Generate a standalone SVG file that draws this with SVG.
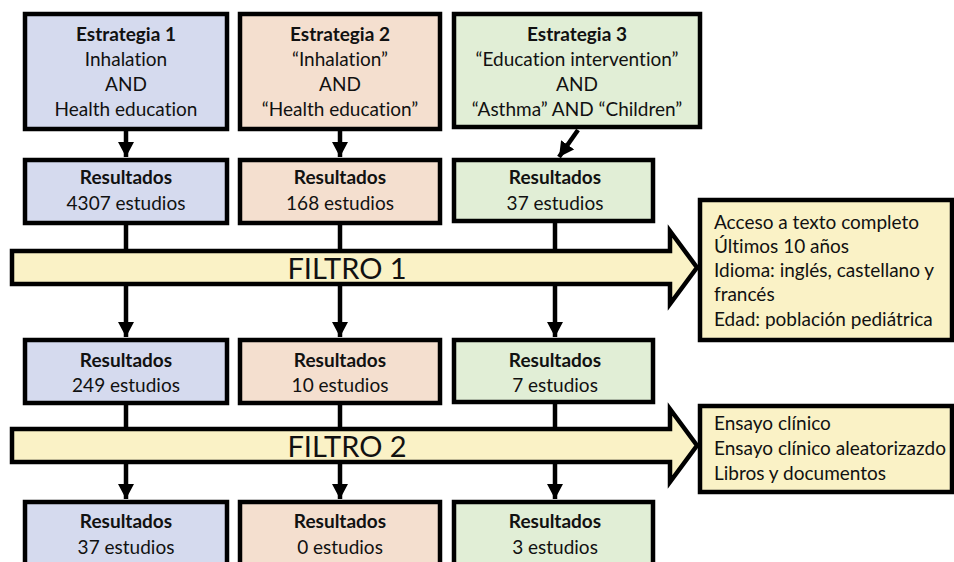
<svg xmlns="http://www.w3.org/2000/svg" width="954" height="562" viewBox="0 0 954 562">
<defs>
<style>
.box{stroke:#000;stroke-width:4.5}
.b{fill:#d5daee}.p{fill:#f4dfcf}.g{fill:#e1eed6}.y{fill:#faf2c6}
text{font-family:Lato,"Open Sans","Liberation Sans",sans-serif;font-size:19px;fill:#111;font-variant-ligatures:none}
.c{text-anchor:middle}
.h{font-weight:bold}
.f{font-size:29px}
.con{stroke:#000;stroke-width:4.5;fill:none}
</style>
<marker id="ah" markerUnits="userSpaceOnUse" markerWidth="16" markerHeight="16" refX="15" refY="8" orient="auto">
<path d="M0,0 L15,8 L0,16 Z" fill="#000"/>
</marker>
</defs>
<rect width="954" height="562" fill="#fff"/>

<g id="connectors">
<line class="con" x1="126" y1="130" x2="126" y2="157" marker-end="url(#ah)"/>
<line class="con" x1="340" y1="130" x2="340" y2="157" marker-end="url(#ah)"/>
<line class="con" x1="578" y1="130" x2="559" y2="157" marker-end="url(#ah)"/>
<line class="con" x1="126" y1="224" x2="126" y2="250"/>
<line class="con" x1="340" y1="224" x2="340" y2="250"/>
<line class="con" x1="555" y1="222" x2="555" y2="250"/>
<line class="con" x1="126" y1="285" x2="126" y2="337" marker-end="url(#ah)"/>
<line class="con" x1="340" y1="285" x2="340" y2="337" marker-end="url(#ah)"/>
<line class="con" x1="555" y1="285" x2="555" y2="337" marker-end="url(#ah)"/>
<line class="con" x1="126" y1="404" x2="126" y2="428"/>
<line class="con" x1="340" y1="404" x2="340" y2="428"/>
<line class="con" x1="555" y1="403" x2="555" y2="428"/>
<line class="con" x1="126" y1="463" x2="126" y2="499" marker-end="url(#ah)"/>
<line class="con" x1="340" y1="463" x2="340" y2="499" marker-end="url(#ah)"/>
<line class="con" x1="555" y1="463" x2="555" y2="499" marker-end="url(#ah)"/>
</g>

<g id="estrategia1">
<rect class="box b" x="25" y="14" width="202" height="115"/>
<text class="c h" x="126" y="41">Estrategia 1</text>
<text class="c" x="126" y="66">Inhalation</text>
<text class="c" x="126" y="91">AND</text>
<text class="c" x="126" y="116">Health education</text>
</g>
<g id="estrategia2">
<rect class="box p" x="240" y="14" width="200" height="115"/>
<text class="c h" x="340" y="41">Estrategia 2</text>
<text class="c" x="340" y="66">“Inhalation”</text>
<text class="c" x="340" y="91">AND</text>
<text class="c" x="340" y="116">“Health education”</text>
</g>
<g id="estrategia3">
<rect class="box g" x="454" y="14" width="246" height="113"/>
<text class="c h" x="577" y="41">Estrategia 3</text>
<text class="c" x="577" y="66">“Education intervention”</text>
<text class="c" x="577" y="91">AND</text>
<text class="c" x="577" y="116">“Asthma” AND “Children”</text>
</g>

<g id="res1a">
<rect class="box b" x="25" y="160" width="202" height="63"/>
<text class="c h" x="126" y="184">Resultados</text>
<text class="c" x="126" y="210">4307 estudios</text>
</g>
<g id="res2a">
<rect class="box p" x="240" y="160" width="200" height="63"/>
<text class="c h" x="340" y="184">Resultados</text>
<text class="c" x="340" y="210">168 estudios</text>
</g>
<g id="res3a">
<rect class="box g" x="454" y="160" width="199" height="61"/>
<text class="c h" x="555" y="184">Resultados</text>
<text class="c" x="555" y="210">37 estudios</text>
</g>

<g id="filtro1">
<path class="box y" d="M12,251 L670,251 L670,231 L697,267.5 L670,304 L670,284 L12,284 Z"/>
<text class="c f" x="347" y="279">FILTRO 1</text>
</g>
<g id="criterios1">
<rect class="box y" x="700" y="200" width="252" height="140"/>
<text x="714" y="229">Acceso a texto completo</text>
<text x="714" y="253">Últimos 10 años</text>
<text x="714" y="277">Idioma: inglés, castellano y</text>
<text x="714" y="301">francés</text>
<text x="714" y="326">Edad: población pediátrica</text>
</g>

<g id="res1b">
<rect class="box b" x="25" y="340" width="202" height="63"/>
<text class="c h" x="126" y="367">Resultados</text>
<text class="c" x="126" y="392">249 estudios</text>
</g>
<g id="res2b">
<rect class="box p" x="240" y="340" width="200" height="63"/>
<text class="c h" x="340" y="367">Resultados</text>
<text class="c" x="340" y="392">10 estudios</text>
</g>
<g id="res3b">
<rect class="box g" x="454" y="340" width="199" height="62"/>
<text class="c h" x="555" y="367">Resultados</text>
<text class="c" x="555" y="392">7 estudios</text>
</g>

<g id="filtro2">
<path class="box y" d="M12,429 L670,429 L670,409 L697,445.5 L670,482 L670,462 L12,462 Z"/>
<text class="c f" x="347" y="457">FILTRO 2</text>
</g>
<g id="criterios2">
<rect class="box y" x="700" y="406" width="252" height="86"/>
<text x="714" y="430">Ensayo clínico</text>
<text x="714" y="455">Ensayo clínico aleatorizazdo</text>
<text x="714" y="480">Libros y documentos</text>
</g>

<g id="res1c">
<rect class="box b" x="25" y="502" width="202" height="70"/>
<text class="c h" x="126" y="528">Resultados</text>
<text class="c" x="126" y="554">37 estudios</text>
</g>
<g id="res2c">
<rect class="box p" x="240" y="502" width="200" height="70"/>
<text class="c h" x="340" y="528">Resultados</text>
<text class="c" x="340" y="554">0 estudios</text>
</g>
<g id="res3c">
<rect class="box g" x="454" y="502" width="199" height="70"/>
<text class="c h" x="555" y="528">Resultados</text>
<text class="c" x="555" y="554">3 estudios</text>
</g>
</svg>
